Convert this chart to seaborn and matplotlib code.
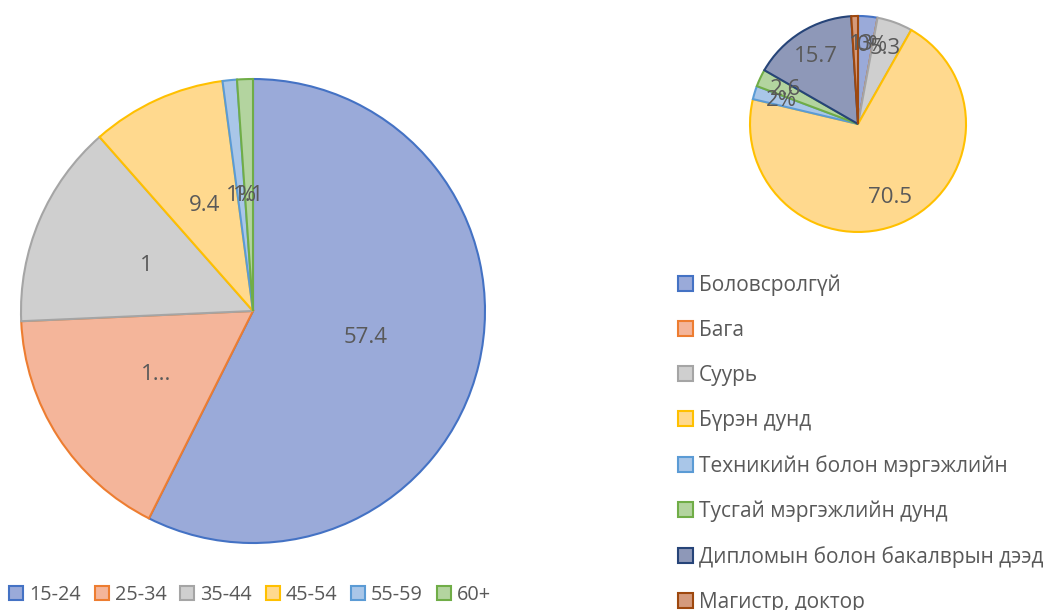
import matplotlib
matplotlib.use("Agg")
import matplotlib.pyplot as plt
from matplotlib.patches import Patch
import seaborn as sns

# left pie: age groups
age_groups = ["15-24", "25-34", "35-44", "45-54", "55-59", "60+"]
age_values = [57.4, 16.9, 14.2, 9.4, 1.0, 1.1]
age_labels = ["57.4", "1...", "1", "9.4", "1%", "1.1"]

# right pie: education level
edu_groups = ["Боловсролгүй", "Бага", "Суурь", "Бүрэн дунд",
              "Техникийн болон мэргэжлийн", "Тусгай мэргэжлийн дунд",
              "Дипломын болон бакалврын дээд", "Магистр, доктор"]
edu_values = [2.9, 0.0, 5.3, 70.5, 2.0, 2.6, 15.7, 1.0]
edu_labels = ["3", "0%", "5.3", "70.5", "2%", "2.6", "15.7", "1"]

sns.set_theme(style="white")
plt.rcParams["font.family"] = ["Open Sans", "DejaVu Sans"]

# Office-like palette: (fill, edge)
age_fill = ["#9AAAD9", "#F4B59A", "#CFCFCF", "#FFD98E", "#A9C6E8", "#B3D49F"]
age_edge = ["#4472C4", "#ED7D31", "#A5A5A5", "#FFC000", "#5B9BD5", "#70AD47"]
edu_fill = age_fill + ["#8E98B8", "#D49A7C"]
edu_edge = age_edge + ["#264478", "#9E480E"]

text_color = "#595959"

fig = plt.figure(figsize=(10.5, 6.1), dpi=100)

ax1 = fig.add_axes([0.02, 0.1098, 0.4419, 0.7607])
wedges, texts = ax1.pie(age_values, labels=age_labels, startangle=90, counterclock=False,
                        colors=age_fill, labeldistance=0.5,
                        wedgeprops=dict(linewidth=1.5),
                        textprops=dict(fontsize=16, color=text_color))
for w, ec in zip(wedges, age_edge):
    w.set_edgecolor(ec)
for t in texts:
    t.set_ha("center"); t.set_va("center")
ax1.set_xlim(-1, 1); ax1.set_ylim(-1, 1)
ax1.set_aspect("equal")

ax2 = fig.add_axes([0.7143, 0.6197, 0.2057, 0.3541])
wedges2, texts2 = ax2.pie(edu_values, labels=edu_labels, startangle=90, counterclock=False,
                          colors=edu_fill, labeldistance=0.74,
                          wedgeprops=dict(linewidth=1.5),
                          textprops=dict(fontsize=16, color=text_color))
for w, ec in zip(wedges2, edu_edge):
    w.set_edgecolor(ec)
for t in texts2:
    t.set_ha("center"); t.set_va("center")
ax2.set_xlim(-1, 1); ax2.set_ylim(-1, 1)
ax2.set_aspect("equal")

# legends
h1 = [Patch(facecolor=f, edgecolor=e, linewidth=1.5) for f, e in zip(age_fill, age_edge)]
fig.legend(h1, age_groups, loc="center left", bbox_to_anchor=(-0.008, 0.025), ncol=6,
           frameon=False, fontsize=14.3, labelcolor=text_color,
           handlelength=0.7, handleheight=0.7, handletextpad=0.3, columnspacing=0.7)

h2 = [Patch(facecolor=f, edgecolor=e, linewidth=1.5) for f, e in zip(edu_fill, edu_edge)]
fig.legend(h2, edu_groups, loc="upper left", bbox_to_anchor=(0.628, 0.581), ncol=1,
           frameon=False, fontsize=15, labelcolor=text_color,
           handlelength=0.7, handleheight=0.7, handletextpad=0.3, labelspacing=1.15)

plt.savefig("out.png", dpi=100)
plt.close()
